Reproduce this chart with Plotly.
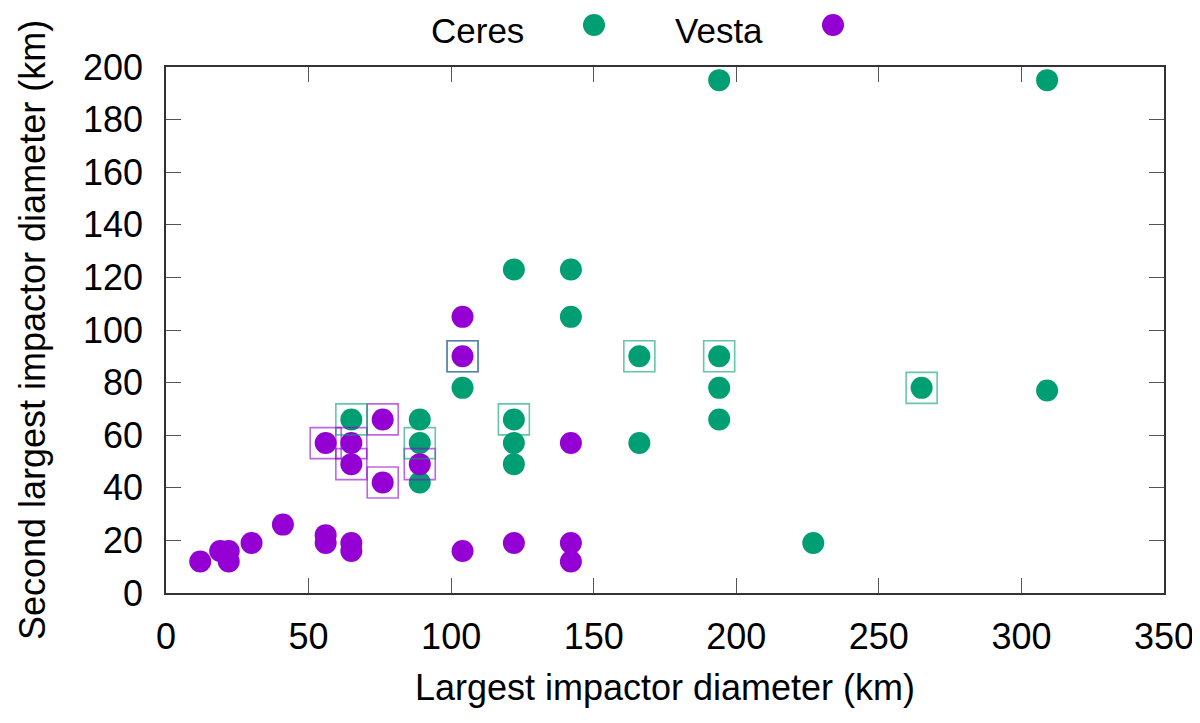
import plotly.graph_objects as go

# ---- data ----
ceres_x = [65, 89, 89, 89, 104, 122, 122, 122, 122, 142, 142, 166, 166, 194, 194, 194, 194, 227, 265, 309, 309]
ceres_y = [66, 66, 57, 42, 78, 123, 66, 57, 49, 123, 105, 90, 57, 195, 90, 78, 66, 19, 78, 195, 77]

vesta_x = [12, 19, 22, 22, 30, 41, 56, 56, 65, 65, 104, 122, 142, 142, 56, 65, 65, 76, 76, 89, 104, 104, 142]
vesta_y = [12, 16, 16, 12, 19, 26, 22, 19, 19, 16, 16, 19, 19, 12, 57, 57, 49, 66, 42, 49, 90, 105, 57]

ceres_box_x = [65, 89, 104, 122, 166, 194, 265]
ceres_box_y = [66, 57, 90, 66, 90, 90, 78]

vesta_box_x = [56, 65, 65, 76, 76, 89, 104]
vesta_box_y = [57, 57, 49, 66, 42, 49, 90]

series_names = ["Ceres", "Vesta"]
x_ticks = [0, 50, 100, 150, 200, 250, 300, 350]
y_ticks = [0, 20, 40, 60, 80, 100, 120, 140, 160, 180, 200]

GREEN = "#009e73"
PURPLE = "#9400d3"
FONT = "Liberation Sans"
FS = 36
LEG_FS = 35

# layout geometry (page body offset compensated)
OX, OY = 7, 8
ML, MT, PW, PH = 165 - OX, 67 - OY, 998, 526
W, H = 1200, 723


def px_to_paper_x(px):
    return (px - OX - ML) / PW


def px_to_paper_y(py):
    return 1 - (py - OY - MT) / PH


fig = go.Figure()
fig.add_trace(go.Scatter(x=ceres_x, y=ceres_y, mode="markers", name=series_names[0],
                         marker=dict(symbol="circle", size=22, color=GREEN, line=dict(width=0)),
                         showlegend=False))
fig.add_trace(go.Scatter(x=vesta_x, y=vesta_y, mode="markers", name=series_names[1],
                         marker=dict(symbol="circle", size=22, color=PURPLE, line=dict(width=0)),
                         showlegend=False))
fig.add_trace(go.Scatter(x=vesta_box_x, y=vesta_box_y, mode="markers", name="Vesta boxed",
                         marker=dict(symbol="square-open", size=31, color=PURPLE, opacity=0.6,
                                     line=dict(width=1.6, color=PURPLE)),
                         showlegend=False))
fig.add_trace(go.Scatter(x=ceres_box_x, y=ceres_box_y, mode="markers", name="Ceres boxed",
                         marker=dict(symbol="square-open", size=31, color=GREEN, opacity=0.6,
                                     line=dict(width=1.6, color=GREEN)),
                         showlegend=False))

# manual gnuplot-style legend (text then sample)
legend_items = [(series_names[0], GREEN, 476, 593), (series_names[1], PURPLE, 718, 832)]
annotations = []
shapes = []
for name, col, tx, mx in legend_items:
    annotations.append(dict(text=name, xref="paper", yref="paper", x=px_to_paper_x(tx),
                            y=px_to_paper_y(30), showarrow=False, xanchor="center", yanchor="middle",
                            borderpad=0,
                            font=dict(family=FONT, size=LEG_FS, color="black")))
    shapes.append(dict(type="circle", xref="paper", yref="paper", xsizemode="pixel", ysizemode="pixel",
                       xanchor=px_to_paper_x(mx), yanchor=px_to_paper_y(25),
                       x0=-11, x1=11, y0=-11, y1=11, fillcolor=col, line=dict(width=0)))

axis_common = dict(showgrid=False, zeroline=False, showline=True, linecolor="#333333", linewidth=1.5,
                   mirror="ticks", ticks="inside", ticklen=15, tickwidth=1, tickcolor="#555555",
                   tickfont=dict(family=FONT, size=FS, color="black"), automargin=False)

fig.update_layout(
    width=W, height=H,
    margin=dict(l=ML, r=W - ML - PW, t=MT, b=H - MT - PH, autoexpand=False),
    paper_bgcolor="white", plot_bgcolor="white",
    font=dict(family=FONT, size=FS, color="black"),
    xaxis=dict(range=[0, 350], tickvals=x_ticks, ticktext=[str(v) for v in x_ticks],
               title=dict(text="Largest impactor diameter (km)", font=dict(family=FONT, size=FS), standoff=19),
               ticklabelstandoff=11, **axis_common),
    yaxis=dict(range=[0, 200], tickvals=y_ticks, ticktext=[str(v) for v in y_ticks],
               title=dict(text="Second largest impactor diameter (km)", font=dict(family=FONT, size=FS), standoff=26),
               ticklabelstandoff=14, **axis_common),
    annotations=annotations,
    shapes=shapes,
)

fig.write_html("out.html")
